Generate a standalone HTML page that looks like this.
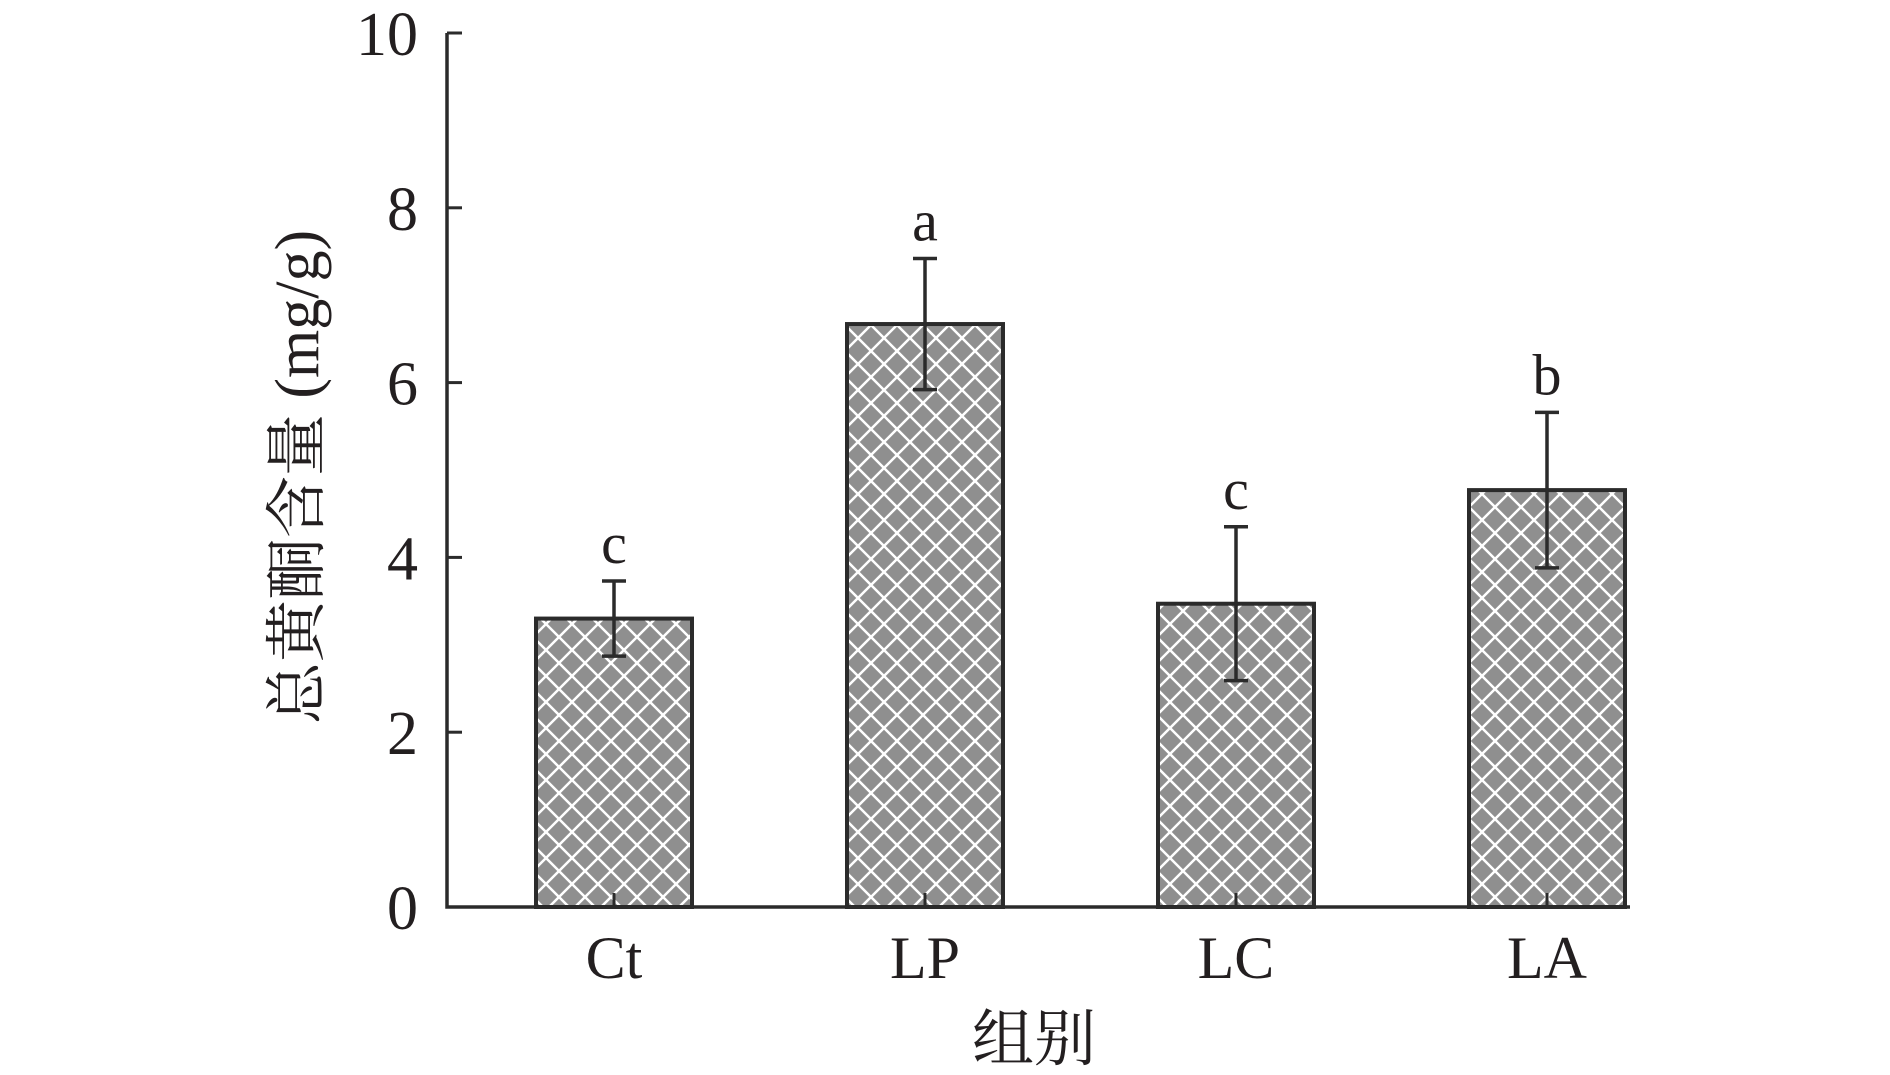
<!DOCTYPE html>
<html><head><meta charset="utf-8"><style>
html,body{margin:0;padding:0;background:#fff;}
svg{display:block;}
text{font-family:"Liberation Serif","Noto Serif CJK SC",serif;fill:#231f20;}
</style></head><body>
<svg id="chart" width="1890" height="1075" viewBox="0 0 1890 1075" xmlns="http://www.w3.org/2000/svg">
<defs>
<pattern id="hatch" width="26" height="26" patternUnits="userSpaceOnUse">
<rect width="26" height="26" fill="#8f8f8f"/>
<path d="M0 0L26 26M26 0L0 26M-5 21L5 31M21 -5L31 5M21 31L31 21M-5 5L5 -5" stroke="#fff" stroke-width="2.5"/>
</pattern>
</defs>
<g id="plot"></g>
</svg>
<script>
const categories = ["Ct","LP","LC","LA"];
const values = [3.3, 6.67, 3.47, 4.77];
const errors = [0.43, 0.75, 0.88, 0.89];
const sigLetters = ["c","a","c","b"];
const yTicks = [0,2,4,6,8,10];

const NS="http://www.w3.org/2000/svg";
const g=document.getElementById('plot');
const axX=447, y0=907, yTop=33, xEnd=1630, yMax=10;
function yScale(v){return y0-(y0-yTop)*v/yMax;}
function xScale(i){return 614+311*i;}
const barW=156;
function mk(tag,attrs,parent){const e=document.createElementNS(NS,tag);for(const k in attrs)e.setAttribute(k,attrs[k]);(parent||g).appendChild(e);return e;}

categories.forEach((c,i)=>{
  const cx=xScale(i), top=yScale(values[i]);
  const bar=mk('rect',{x:cx-barW/2,y:top,width:barW,height:y0-top,fill:'url(#hatch)',stroke:'#2b2b2b','stroke-width':4});
  
  
  const tk=mk('line',{x1:cx,x2:cx,y1:y0,y2:y0-14,stroke:'#2b2b2b','stroke-width':3});
  
  
  const hi=yScale(values[i]+errors[i]), lo=yScale(values[i]-errors[i]);
  const eb=mk('path',{d:`M${cx} ${hi}V${lo}M${cx-12} ${hi}H${cx+12}M${cx-12} ${lo}H${cx+12}`,stroke:'#2b2b2b','stroke-width':3.5,fill:'none'});
  
  
  const sl=mk('text',{x:cx,y:hi-18,'text-anchor':'middle','font-size':58});
  sl.textContent=sigLetters[i];
  
  
  const lb=mk('text',{x:cx,y:978,'text-anchor':'middle','font-size':60});
  lb.textContent=c;
  
  
});

yTicks.forEach(t=>{
  const y=yScale(t);
  const tk=mk('line',{x1:axX,x2:axX+15,y1:y,y2:y,stroke:'#2b2b2b','stroke-width':3});
  
  
  const lb=mk('text',{x:418,y:y+22,'text-anchor':'end','font-size':62});
  lb.textContent=t;
  
  
});

const ax=mk('path',{d:`M${axX} ${yTop}V${y0}H${xEnd}`,stroke:'#2b2b2b','stroke-width':3.5,fill:'none'});



const xt=mk('text',{x:1034,y:1060,'text-anchor':'middle','font-size':62});
xt.textContent='组别';



const yt=mk('text',{x:0,y:0,'text-anchor':'middle','font-size':62,transform:'translate(318,477) rotate(-90)'});
yt.textContent='总黄酮含量 (mg/g)';


</script>
</body></html>
